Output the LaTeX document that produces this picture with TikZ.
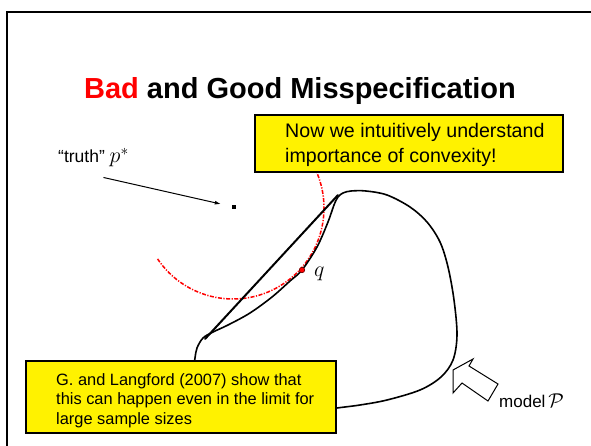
\RequirePackage{fix-cm}
\documentclass[tikz,border=0pt]{standalone}
\usepackage{fontspec}
\setmainfont{Liberation Sans}
\usetikzlibrary{arrows.meta}
\begin{document}
\begin{tikzpicture}[x=1pt,y=-1pt,
  note/.style={draw=black, line width=1.8pt, fill=yellow, inner sep=0pt},
  notetext/.style={anchor=base west, align=left, inner sep=0pt},
  modelline/.style={line width=1.6pt, line cap=round, line join=round},
  chordline/.style={line width=2pt, line cap=round},
  circline/.style={red, line width=1.5pt, dash pattern=on 4pt off 1.5pt on 1.2pt off 1.5pt},
  pointer/.style={-{Latex[length=6pt,width=4pt]}, line width=1pt, shorten >=11pt},
  hollow/.style={draw=black, line width=1pt, fill=white, line join=miter}
]
\useasboundingbox (0,0) rectangle (591,446);
% frame
\draw[line width=1.6pt] (7,447) -- (7,12) -- (592,12);

% title
\node[anchor=base, inner sep=0pt, font=\fontsize{29}{34}\selectfont\bfseries] (title) at (300,99)
  {\textcolor{red}{Bad} and Good Misspecification};

% truth point and circle
\node[fill=black, inner sep=0pt, minimum size=4.5pt] (pstar) at (234,207) {};
\coordinate (pc) at (233,208);
\draw[circline] (pc) ++(214:91pt) arc[start angle=214, end angle=386, radius=91pt];

% model curve
\draw[modelline] plot[smooth, tension=0.55] coordinates {
 (193,372) (195,358) (197,348) (203,338) (213,332) (228,325) (250,313) (272,297)
 (290,281) (302,270) (317,247) (328,222) (334,205) (338,197) (343,193) (351,191)
 (366,191) (387,195) (410,207) (427,222) (440,242) (448,267) (454,300) (457,335)
 (453,360) (441,377) (420,390) (387,400) (360,405) (337,408) (318,411)};

% chord
\coordinate (c1) at (205,339);
\coordinate (c2) at (338,195);
\draw[chordline] (c1) -- (c2);

% q point
\node[circle, fill=red, draw=black!60!red, line width=0.6pt, inner sep=0pt, minimum size=5.5pt] (qpt) at (302,270) {};
\node[anchor=base west, inner sep=0pt, font=\fontsize{22}{26}\selectfont] (qlab) at (314,276) {$q$};

% truth label + arrow
\node[anchor=base west, inner sep=2pt, font=\fontsize{17.5}{21}\selectfont] (truth) at (56,163)
  {“truth” {\fontsize{22}{26}\selectfont$p^*$}};
\draw[pointer] ([shift={(10pt,-8pt)}]truth.south) -- (pstar);

% hollow arrow pointing at the model
\draw[hollow] (453,370) -- (473,359) -- (469,366) -- (498,384) -- (488,401) -- (462,383) -- (453,393) -- cycle;
\node[anchor=base west, inner sep=0pt, font=\fontsize{17}{20}\selectfont] (model) at (499,407)
  {model\,{\fontsize{20}{24}\selectfont$\mathcal{P}$}};

% top note
\node[note, minimum width=308pt, minimum height=57pt] (box1) at (409,143.5) {};
\node[notetext, font=\fontsize{19.6}{25}\selectfont] (msg1) at (285,163)
  {Now we intuitively understand\\importance of convexity!};

% bottom note
\node[note, minimum width=310pt, minimum height=72pt] (box2) at (181,397) {};
\node[notetext, font=\fontsize{16.4}{19.4}\selectfont] (msg2) at (56,424)
  {G. and Langford (2007) show that\\this can happen even in the limit for\\large sample sizes};
\end{tikzpicture}
\end{document}
